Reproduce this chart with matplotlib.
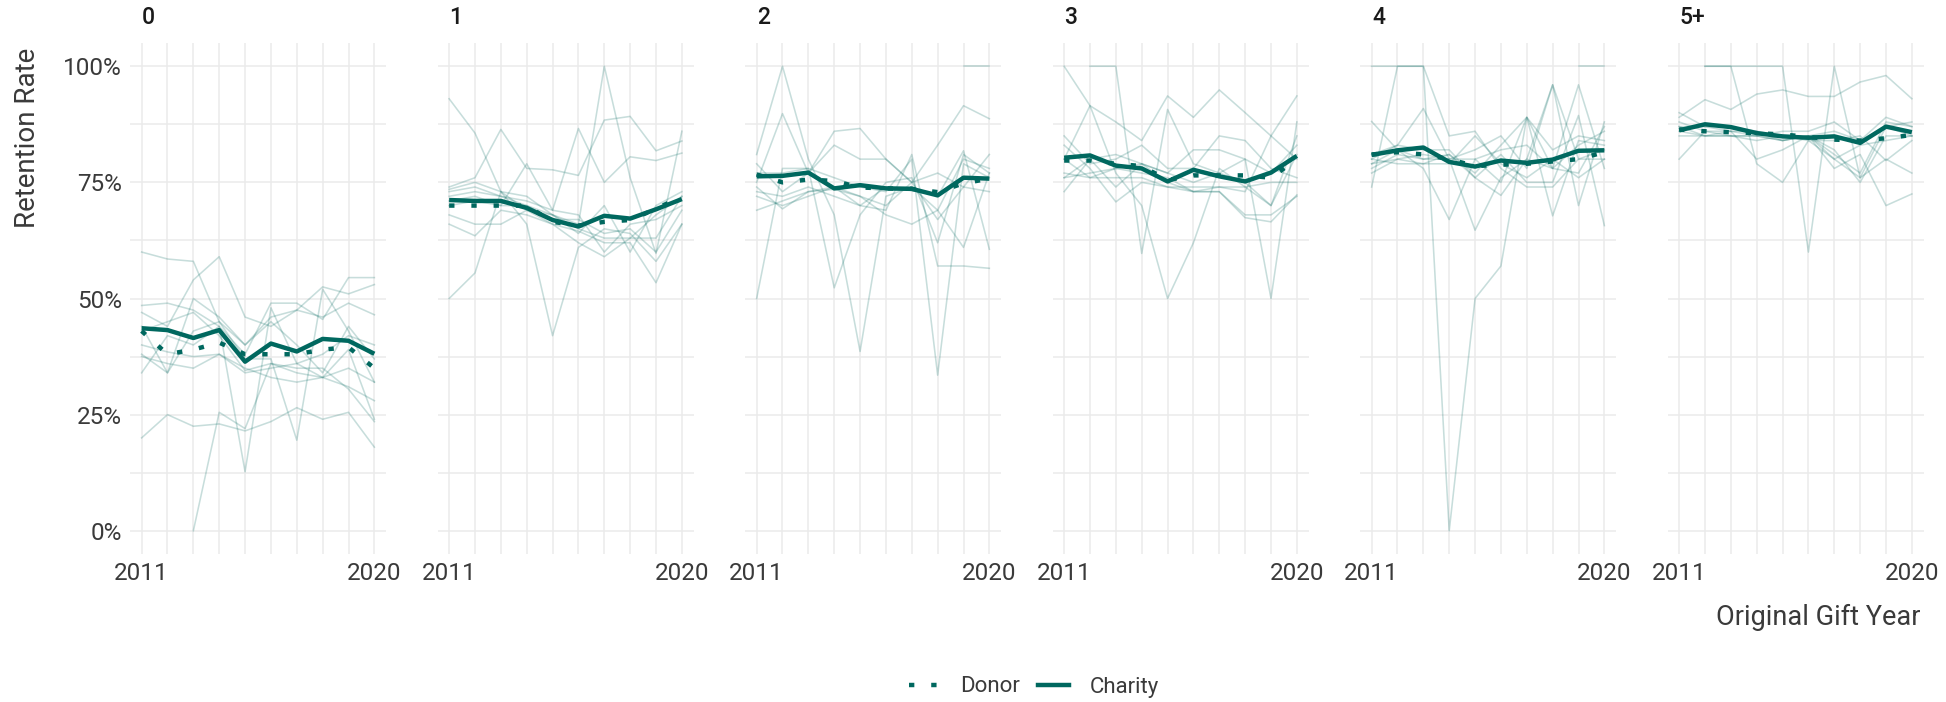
import numpy as np
import matplotlib
matplotlib.use('Agg')
import matplotlib.pyplot as plt
from matplotlib.lines import Line2D
from matplotlib.ticker import FuncFormatter

nan = np.nan

YEARS = list(range(2011, 2021))
PANELS = ['0', '1', '2', '3', '4', '5+']

# Average retention per gift count: donor-weighted and charity-weighted
donor_avg = [
    [0.43, 0.38, 0.39, 0.405, 0.38, 0.38, 0.38, 0.39, 0.395, 0.35],
    [0.70, 0.70, 0.70, 0.70, 0.665, 0.657, 0.665, 0.669, 0.693, 0.72],
    [0.767, 0.75, 0.756, 0.753, 0.739, 0.737, 0.736, 0.729, 0.748, 0.758],
    [0.797, 0.797, 0.79, 0.785, 0.755, 0.765, 0.765, 0.765, 0.76, 0.80],
    [0.81, 0.815, 0.81, 0.80, 0.785, 0.788, 0.79, 0.795, 0.80, 0.815],
    [0.864, 0.86, 0.858, 0.856, 0.853, 0.848, 0.842, 0.84, 0.845, 0.852],
]
charity_avg = [
    [0.436, 0.432, 0.415, 0.432, 0.364, 0.403, 0.386, 0.413, 0.409, 0.381],
    [0.712, 0.710, 0.710, 0.695, 0.669, 0.655, 0.678, 0.672, 0.692, 0.714],
    [0.763, 0.764, 0.771, 0.737, 0.744, 0.737, 0.736, 0.722, 0.760, 0.758],
    [0.803, 0.808, 0.786, 0.780, 0.752, 0.777, 0.763, 0.752, 0.771, 0.807],
    [0.809, 0.819, 0.825, 0.794, 0.784, 0.797, 0.792, 0.799, 0.818, 0.819],
    [0.862, 0.875, 0.869, 0.856, 0.849, 0.846, 0.849, 0.835, 0.870, 0.858],
]

# Individual charities, one list of series per panel
charities_0 = [
    [0.60, 0.585, 0.58, 0.45, 0.40, 0.46, 0.475, 0.46, 0.49, 0.465],
    [0.485, 0.49, 0.475, 0.44, 0.38, 0.49, 0.49, 0.455, 0.545, 0.545],
    [0.47, 0.44, 0.54, 0.59, 0.46, 0.44, 0.475, 0.525, 0.51, 0.53],
    [0.20, 0.25, 0.225, 0.23, 0.215, 0.235, 0.265, 0.24, 0.255, 0.18],
    [nan, nan, 0.0, 0.255, 0.22, 0.36, 0.34, 0.33, 0.31, 0.28],
    [0.34, 0.42, 0.40, 0.44, 0.127, 0.48, 0.36, 0.33, 0.39, 0.24],
    [0.38, 0.34, 0.43, 0.45, 0.37, 0.37, 0.195, 0.52, 0.43, 0.32],
    [0.375, 0.36, 0.35, 0.38, 0.35, 0.33, 0.32, 0.33, 0.35, 0.32],
    [0.44, 0.34, 0.50, 0.46, 0.40, 0.45, 0.40, 0.34, 0.44, 0.37],
    [0.40, 0.385, 0.375, 0.38, 0.34, 0.35, 0.36, 0.38, 0.42, 0.40],
    [0.43, 0.45, 0.47, 0.42, 0.345, 0.36, 0.35, 0.35, 0.305, 0.235],
]
charities_1 = [
    [0.93, 0.856, 0.73, 0.69, 0.68, 0.65, 0.63, 0.63, 0.68, 0.72],
    [0.50, 0.555, 0.73, 0.66, 0.42, 0.61, 0.65, 0.64, 0.58, 0.66],
    [0.74, 0.76, 0.864, 0.78, 0.777, 0.765, 0.884, 0.892, 0.818, 0.839],
    [0.71, 0.72, 0.70, 0.79, 0.69, 0.68, 0.60, 0.66, 0.67, 0.70],
    [0.73, 0.74, 0.72, 0.71, 0.69, 0.866, 0.75, 0.805, 0.797, 0.813],
    [0.70, 0.71, 0.70, 0.70, 0.68, 0.66, 1.0, 0.76, 0.597, 0.86],
    [0.66, 0.635, 0.69, 0.68, 0.66, 0.645, 0.62, 0.62, 0.534, 0.66],
    [0.68, 0.66, 0.66, 0.69, 0.66, 0.62, 0.59, 0.63, 0.63, 0.72],
    [0.72, 0.73, 0.72, 0.70, 0.67, 0.67, 0.64, 0.65, 0.60, 0.69],
    [0.735, 0.75, 0.73, 0.72, 0.68, 0.64, 0.70, 0.60, 0.70, 0.73],
]
charities_2 = [
    [0.50, 0.78, 0.78, 0.523, 0.68, 0.75, 0.76, 0.62, 0.81, 0.77],
    [0.81, 1.0, 0.80, 0.68, 0.386, 0.72, 0.74, 0.69, 0.80, 0.78],
    [0.75, 0.898, 0.77, 0.86, 0.866, 0.80, 0.75, 0.83, 0.915, 0.887],
    [0.77, 0.77, 0.78, 0.76, 0.74, 0.73, 0.80, 0.335, 0.79, 0.76],
    [nan, nan, nan, nan, nan, nan, nan, nan, 1.0, 1.0],
    [0.73, 0.72, 0.74, 0.72, 0.70, 0.69, 0.81, 0.57, 0.57, 0.565],
    [0.72, 0.70, 0.72, 0.74, 0.72, 0.68, 0.66, 0.69, 0.61, 0.77],
    [0.79, 0.73, 0.77, 0.83, 0.80, 0.80, 0.75, 0.77, 0.74, 0.73],
    [0.74, 0.693, 0.73, 0.74, 0.70, 0.74, 0.74, 0.72, 0.818, 0.606],
    [0.69, 0.71, 0.73, 0.735, 0.72, 0.70, 0.75, 0.67, 0.74, 0.81],
]
charities_3 = [
    [1.0, 0.915, 0.77, 0.70, 0.50, 0.62, 0.78, 0.74, 0.70, 0.85],
    [nan, 1.0, 1.0, 0.597, 0.907, 0.79, 0.77, 0.75, 0.70, 0.81],
    [0.80, 0.915, 0.88, 0.84, 0.936, 0.89, 0.949, 0.90, 0.85, 0.80],
    [0.85, 0.79, 0.80, 0.83, 0.78, 0.78, 0.85, 0.84, 0.78, 0.76],
    [0.76, 0.80, 0.81, 0.79, 0.77, 0.75, 0.77, 0.80, 0.50, 0.88],
    [0.73, 0.80, 0.74, 0.79, 0.75, 0.73, 0.74, 0.73, 0.85, 0.936],
    [0.77, 0.76, 0.76, 0.76, 0.74, 0.74, 0.74, 0.74, 0.75, 0.75],
    [0.76, 0.77, 0.78, 0.77, 0.76, 0.73, 0.73, 0.674, 0.665, 0.723],
    [0.83, 0.78, 0.708, 0.75, 0.74, 0.73, 0.73, 0.68, 0.68, 0.72],
    [0.80, 0.76, 0.78, 0.79, 0.77, 0.82, 0.82, 0.80, 0.77, 0.83],
]
charities_4 = [
    [1.0, 1.0, 1.0, 0.0, 0.50, 0.57, 0.89, 0.78, 0.83, 0.86],
    [0.74, 1.0, 1.0, 0.85, 0.86, 0.78, 0.74, 0.74, 0.80, 0.80],
    [0.881, 0.82, 0.78, 0.67, 0.80, 0.75, 0.89, 0.678, 0.84, 0.83],
    [nan, nan, nan, nan, nan, nan, nan, nan, 1.0, 1.0],
    [0.80, 0.83, 0.909, 0.80, 0.647, 0.76, 0.80, 0.96, 0.80, 0.82],
    [0.78, 0.81, 0.80, 0.80, 0.82, 0.85, 0.78, 0.96, 0.70, 0.88],
    [0.77, 0.80, 0.81, 0.80, 0.80, 0.82, 0.83, 0.78, 0.96, 0.78],
    [0.80, 0.79, 0.79, 0.81, 0.76, 0.722, 0.80, 0.78, 0.77, 0.87],
    [0.81, 0.83, 0.82, 0.82, 0.76, 0.81, 0.75, 0.75, 0.894, 0.657],
    [0.79, 0.80, 0.79, 0.79, 0.85, 0.79, 0.76, 0.80, 0.76, 0.80],
    [0.79, 0.82, 0.80, 0.81, 0.77, 0.83, 0.89, 0.82, 0.85, 0.84],
]
charities_5 = [
    [nan, 1.0, 1.0, 0.79, 0.75, 0.84, 0.80, 0.83, 0.84, 0.85],
    [nan, 1.0, 1.0, 1.0, 1.0, 0.60, 1.0, 0.76, 0.87, 0.85],
    [0.89, 0.928, 0.907, 0.94, 0.949, 0.935, 0.935, 0.966, 0.98, 0.93],
    [0.80, 0.86, 0.85, 0.85, 0.84, 0.85, 0.82, 0.75, 0.85, 0.85],
    [0.88, 0.86, 0.86, 0.80, 0.82, 0.85, 0.78, 0.81, 0.70, 0.725],
    [0.87, 0.87, 0.87, 0.86, 0.84, 0.85, 0.80, 0.76, 0.80, 0.77],
    [0.86, 0.85, 0.86, 0.85, 0.84, 0.85, 0.81, 0.77, 0.88, 0.87],
    [0.85, 0.85, 0.85, 0.85, 0.86, 0.86, 0.88, 0.84, 0.87, 0.88],
    [0.87, 0.85, 0.85, 0.84, 0.85, 0.84, 0.84, 0.85, 0.797, 0.84],
    [0.90, 0.87, 0.86, 0.86, 0.85, 0.85, 0.86, 0.84, 0.89, 0.87],
]
charities = [charities_0, charities_1, charities_2,
             charities_3, charities_4, charities_5]

TEAL = '#00685f'
GRID = '#ebebeb'
TEXT = '#3a3a3a'

plt.rcParams['font.family'] = ['Roboto', 'DejaVu Sans']

W, H = 1946, 702
fig = plt.figure(figsize=(W / 100, H / 100), dpi=100)

panel_w = 256
panel_step = 307.5
top_px, bottom_px = 43, 554

axes = []
for i, label in enumerate(PANELS):
    left_px = 130 + i * panel_step
    ax = fig.add_axes([left_px / W, 1 - bottom_px / H,
                       panel_w / W, (bottom_px - top_px) / H])
    axes.append(ax)

    for yr in YEARS:
        ax.axvline(yr, color=GRID, lw=1.1, zorder=0)
    for v in np.arange(0, 1.01, 0.125):
        ax.axhline(v, color=GRID, lw=1.1, zorder=0)

    for series in charities[i]:
        ax.plot(YEARS, np.array(series, dtype=float), color=TEAL,
                lw=1.15, alpha=0.22, zorder=2)

    ax.plot(YEARS, donor_avg[i], color=TEAL, lw=3.2,
            linestyle=(0, (1.2, 3.8)), zorder=3)
    ax.plot(YEARS, charity_avg[i], color=TEAL, lw=3.2,
            solid_capstyle='butt', zorder=4)

    ax.set_xlim(2010.55, 2020.45)
    ax.set_ylim(-0.05, 1.05)
    ax.set_xticks([2011, 2020])
    ax.set_yticks([0, 0.25, 0.5, 0.75, 1.0])
    ax.yaxis.set_major_formatter(FuncFormatter(lambda v, _: f'{v * 100:.0f}%'))
    ax.tick_params(length=0, labelsize=17.5, labelcolor=TEXT, pad=6)
    if i > 0:
        ax.tick_params(labelleft=False)
    for s in ax.spines.values():
        s.set_visible(False)

    ax.text(12 / panel_w, (bottom_px - 18) / (bottom_px - top_px), label,
            transform=ax.transAxes, ha='left', va='center',
            fontsize=16.5, fontweight='medium', color='#1a1a1a')

fig.text(28 / W, 1 - 138 / H, 'Retention Rate', rotation=90,
         ha='center', va='center', fontsize=20, color=TEXT)
fig.text(1921 / W, 1 - 617 / H, 'Original Gift Year',
         ha='right', va='center', fontsize=19.5, color=TEXT)

handles = [
    Line2D([], [], color=TEAL, lw=3.2, linestyle=(0, (1.2, 3.8))),
    Line2D([], [], color=TEAL, lw=3.2),
]
fig.legend(handles, ['Donor', 'Charity'], loc='center',
           bbox_to_anchor=(1034 / W, 1 - 687 / H), ncol=2, frameon=False,
           fontsize=16, handlelength=1.4, handletextpad=0.9,
           columnspacing=0.8, labelcolor=TEXT)

fig.savefig('out.png', dpi=100)
